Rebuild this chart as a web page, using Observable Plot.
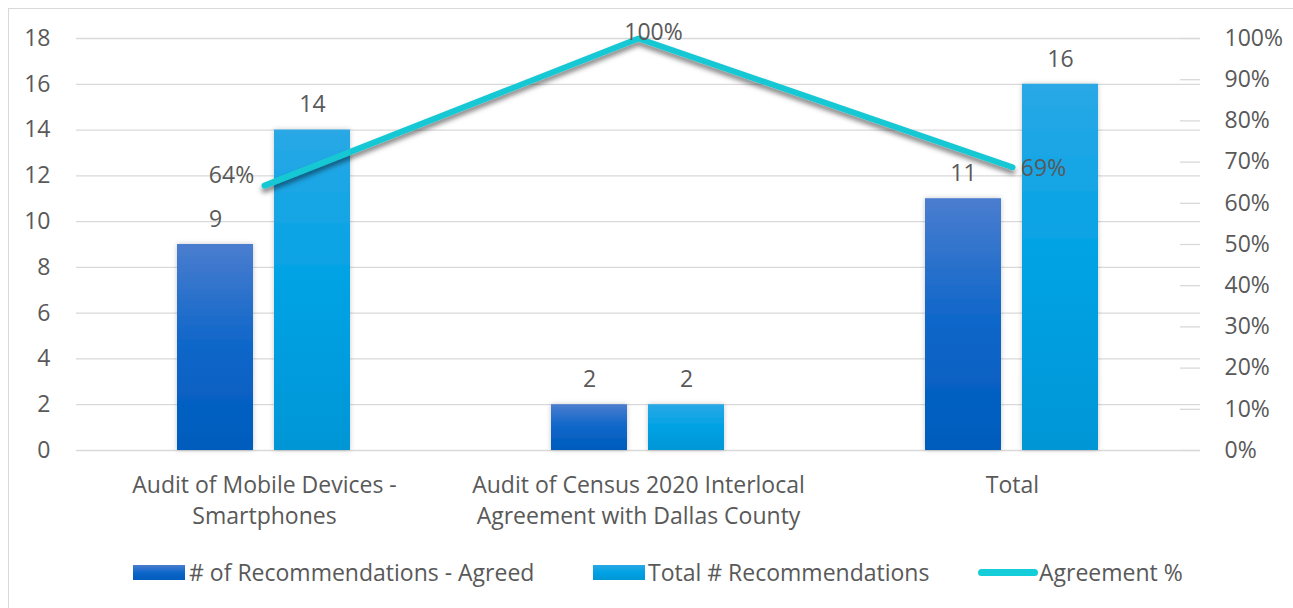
<!DOCTYPE html>
<html>
<head>
<meta charset="utf-8">
<script src="https://cdn.jsdelivr.net/npm/d3@7"></script>
<script src="https://cdn.jsdelivr.net/npm/@observablehq/plot@0.6"></script>
<style>
  html, body { margin: 0; padding: 0; background: #fff; }
  body { width: 1293px; height: 608px; overflow: hidden; position: relative; font-family: "Open Sans", sans-serif; }
  #frame { position: absolute; left: 8px; top: 8px; width: 1300px; height: 620px; border-left: 1px solid #d9d9d9; border-top: 1px solid #d9d9d9; }
  #chart { position: absolute; left: 0; top: 0; }
  .leg { position: absolute; color: #595959; font-size: 23px; line-height: 26px; white-space: nowrap; }
  .sw { position: absolute; }
</style>
</head>
<body>
<div id="frame">
  <div id="chart"></div>
</div>
<script>
const categories = ["Audit of Mobile Devices -\nSmartphones", "Audit of Census 2020 Interlocal\nAgreement with Dallas County", "Total"];
const agreed = [9, 2, 11];
const total = [14, 2, 16];
const agreementPct = [0.6429, 1.0, 0.6875];
const pctLabels = ["64%", "100%", "69%"];
const leftTicks = [0, 2, 4, 6, 8, 10, 12, 14, 16, 18];
const rightTicks = [0, 10, 20, 30, 40, 50, 60, 70, 80, 90, 100];
const seriesNames = ["# of Recommendations - Agreed", "Total # Recommendations", "Agreement %"];

const yMax = 18;
const rows = categories.map((c, i) => ({cat: c, agreed: agreed[i], total: total[i], pct: agreementPct[i], pctY: agreementPct[i] * yMax, pctLabel: pctLabels[i]}));

const textColor = "#595959";
const grid = "#d9d9d9";
const fs = 23;

const plot = Plot.plot({
  width: 1284,
  height: 530,
  marginLeft: 67,
  marginRight: 93,
  marginTop: 29,
  marginBottom: 89,
  style: {fontFamily: "'Open Sans', sans-serif", fontSize: fs + "px", color: textColor, background: "transparent", overflow: "visible"},
  x: {domain: categories, padding: 0, label: null},
  y: {domain: [0, yMax], label: null},
  marks: [
    Plot.gridY(leftTicks, {stroke: grid, strokeOpacity: 1, strokeWidth: 1.3}),
    Plot.ruleY(rightTicks.map(p => p / 100 * yMax), {stroke: grid, strokeWidth: 1.3, insetLeft: 1104}),
    Plot.axisY({anchor: "left", ticks: leftTicks, tickSize: 0, tickPadding: 26, fontSize: fs, fill: textColor}),
    Plot.axisY({anchor: "right", ticks: rightTicks.map(p => p / 100 * yMax), tickFormat: d => Math.round(d / yMax * 100) + "%", tickSize: 0, tickPadding: 24, fontSize: fs, fill: textColor}),
    Plot.axisX({anchor: "bottom", tickSize: 0, tickPadding: 20, fontSize: fs, fill: textColor, lineHeight: 1.35}),
    Plot.barY(rows, {x: "cat", y: "agreed", fill: "url(#gDark)", insetLeft: 100, insetRight: 198, className: "bar"}),
    Plot.barY(rows, {x: "cat", y: "total", fill: "url(#gLight)", insetLeft: 197, insetRight: 101, className: "bar"}),
    Plot.text(rows, {x: "cat", y: "agreed", text: d => String(d.agreed), dx: -49, dy: -25, fontSize: fs, fill: textColor}),
    Plot.text(rows, {x: "cat", y: "total", text: d => String(d.total), dx: 48, dy: -25, fontSize: fs, fill: textColor}),
    Plot.line(rows, {x: "cat", y: "pctY", stroke: "#17c8d3", strokeWidth: 6, strokeLinejoin: "miter", strokeLinecap: "round", className: "pline"}),
    Plot.text(rows.slice(0, 1), {x: "cat", y: "pctY", text: "pctLabel", dx: -33, dy: -10, fontSize: fs, fill: textColor}),
    Plot.text(rows.slice(1, 2), {x: "cat", y: "pctY", text: "pctLabel", dx: 15, dy: -6, fontSize: fs, fill: textColor}),
    Plot.text(rows.slice(2, 3), {x: "cat", y: "pctY", text: "pctLabel", dx: 31, dy: 1, fontSize: fs, fill: textColor})
  ]
});

const svg = d3.select(plot);
const defs = svg.insert("defs", ":first-child");
const g1 = defs.append("linearGradient").attr("id", "gDark").attr("x1", 0).attr("y1", 0).attr("x2", 0).attr("y2", 1);
g1.append("stop").attr("offset", "0%").attr("stop-color", "#4a7dcf");
g1.append("stop").attr("offset", "50%").attr("stop-color", "#0d66c9");
g1.append("stop").attr("offset", "100%").attr("stop-color", "#005cbd");
const g2 = defs.append("linearGradient").attr("id", "gLight").attr("x1", 0).attr("y1", 0).attr("x2", 0).attr("y2", 1);
g2.append("stop").attr("offset", "0%").attr("stop-color", "#2aa8e6");
g2.append("stop").attr("offset", "50%").attr("stop-color", "#00a2e4");
g2.append("stop").attr("offset", "100%").attr("stop-color", "#0096d6");
const f1 = defs.append("filter").attr("id", "barShadow").attr("x", "-20%").attr("y", "-20%").attr("width", "140%").attr("height", "140%");
f1.append("feDropShadow").attr("dx", 0).attr("dy", 0).attr("stdDeviation", 2.5).attr("flood-color", "#000").attr("flood-opacity", 0.22);
const f2 = defs.append("filter").attr("id", "lineShadow").attr("x", "-10%").attr("y", "-30%").attr("width", "120%").attr("height", "160%");
f2.append("feDropShadow").attr("dx", 0).attr("dy", 4).attr("stdDeviation", 2.5).attr("flood-color", "#000").attr("flood-opacity", 0.5);
svg.selectAll("g.bar rect").attr("filter", "url(#barShadow)");
svg.selectAll("g.pline path").attr("filter", "url(#lineShadow)");

document.getElementById("chart").appendChild(plot);

// Legend (below the SVG)
const frame = document.getElementById("frame");
function addSwatch(left, top, w, h, bg, radius) {
  const s = document.createElement("div");
  s.className = "sw";
  s.style.left = left + "px"; s.style.top = top + "px";
  s.style.width = w + "px"; s.style.height = h + "px";
  s.style.background = bg;
  if (radius) s.style.borderRadius = radius + "px";
  frame.appendChild(s);
}
function addText(left, top, txt) {
  const t = document.createElement("div");
  t.className = "leg";
  t.style.left = left + "px"; t.style.top = top + "px";
  t.textContent = txt;
  frame.appendChild(t);
}
// frame offset is 8px + 1px border
addSwatch(133 - 9, 565 - 9, 52, 15, "linear-gradient(#4a7dcf, #0d66c9 50%, #005cbd)");
addText(189 - 9, 559 - 9, seriesNames[0]);
addSwatch(593 - 9, 565 - 9, 52, 15, "linear-gradient(#2aa8e6, #00a2e4 50%, #0096d6)");
addText(648 - 9, 559 - 9, seriesNames[1]);
addSwatch(978 - 9, 569 - 9, 60, 7, "#14cdd8", 3.5);
addText(1039 - 9, 559 - 9, seriesNames[2]);
</script>
</body>
</html>
